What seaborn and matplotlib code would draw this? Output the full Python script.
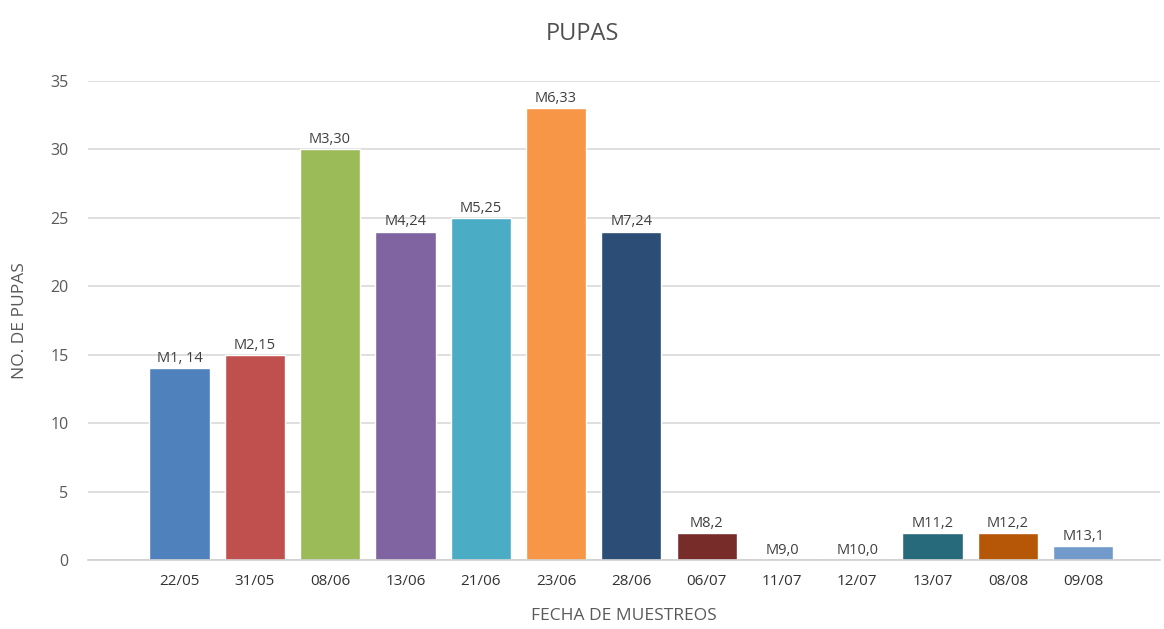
import matplotlib
matplotlib.use("Agg")
import matplotlib.pyplot as plt
import seaborn as sns
import pandas as pd

fechas = ["22/05", "31/05", "08/06", "13/06", "21/06", "23/06", "28/06",
          "06/07", "11/07", "12/07", "13/07", "08/08", "09/08"]
pupas = [14, 15, 30, 24, 25, 33, 24, 2, 0, 0, 2, 2, 1]
etiquetas = ["M1, 14", "M2,15", "M3,30", "M4,24", "M5,25", "M6,33", "M7,24",
             "M8,2", "M9,0", "M10,0", "M11,2", "M12,2", "M13,1"]
colores = ["#4F81BD", "#C0504D", "#9BBB59", "#8064A2", "#4BACC6", "#F79646",
           "#2C4D75", "#772C2A", "#5F7530", "#4D3B62", "#276A7C", "#B65708",
           "#729ACA"]

df = pd.DataFrame({"fecha": fechas, "pupas": pupas})

sns.set_theme(style="white")
plt.rcParams["font.family"] = ["Open Sans", "DejaVu Sans"]

fig = plt.figure(figsize=(11.64, 6.29), dpi=100)
ax = fig.add_axes([88 / 1164, 69 / 629, (1160 - 88) / 1164, (560 - 81) / 629])

sns.barplot(data=df, x="fecha", y="pupas", hue="fecha", palette=colores,
            order=fechas, hue_order=fechas, width=0.8, legend=False,
            saturation=1, ax=ax)

ax.set_ylim(0, 35)
ax.set_xlim(-1.215, 13.02)
ax.set_yticks(range(0, 36, 5))
ax.yaxis.grid(True, color="#D9D9D9", linewidth=1.2)
ax.set_axisbelow(True)
for s in ["top", "right", "left"]:
    ax.spines[s].set_visible(False)
ax.spines["bottom"].set_color("#D0D0D0")
ax.spines["bottom"].set_linewidth(1.2)

ax.tick_params(axis="y", length=0, pad=14, labelsize=11.5, labelcolor="#595959")
ax.tick_params(axis="x", length=0, pad=10, labelsize=11, labelcolor="#333333")

for i, (v, t) in enumerate(zip(pupas, etiquetas)):
    ax.text(i, v + 0.15, t, ha="center", va="bottom", fontsize=10.5,
            color="#404040")

ax.set_xlabel("FECHA DE MUESTREOS", fontsize=12.5, color="#595959", labelpad=14)
ax.set_ylabel("NO. DE PUPAS", fontsize=12.5, color="#595959", labelpad=16)
fig.suptitle("PUPAS", x=0.5, y=0.965, fontsize=17, color="#505050")

fig.savefig("out.png", dpi=100, facecolor="white")
